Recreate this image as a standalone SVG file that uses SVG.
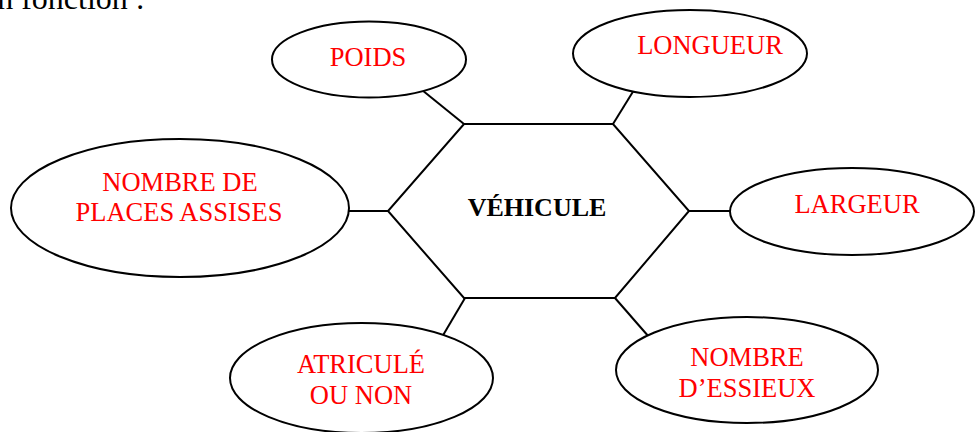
<svg xmlns="http://www.w3.org/2000/svg" width="976" height="432" viewBox="0 0 976 432">
<style>
.sh{fill:#fff;stroke:#000;stroke-width:2}
.ln{stroke:#000;stroke-width:2;fill:none}
.t{font-family:"Liberation Serif","Times New Roman",serif;font-size:26.5px;fill:#ff0000;text-anchor:middle}
.c{font-family:"Liberation Serif","Times New Roman",serif;font-size:26px;font-weight:bold;fill:#000;text-anchor:middle}
.h{font-family:"Liberation Serif","Times New Roman",serif;font-size:32px;fill:#000}
</style>
<rect width="976" height="432" fill="#fff"/>
<text class="h" x="-17" y="9">en fonction :</text>
<g id="connectors">
<line class="ln" x1="422" y1="90" x2="464" y2="124"/>
<line class="ln" x1="634" y1="90" x2="613" y2="124"/>
<line class="ln" x1="349" y1="211" x2="388" y2="211"/>
<line class="ln" x1="689" y1="211" x2="730" y2="211"/>
<line class="ln" x1="442" y1="337" x2="465" y2="298"/>
<line class="ln" x1="615" y1="298" x2="649" y2="337"/>
</g>
<g id="vehicule">
<polygon class="sh" points="464,124 613,124 689,211 615,298 464,298 388,211"/>
<text class="c" x="537" y="216">VÉHICULE</text>
</g>
<g id="poids">
<ellipse class="sh" cx="369" cy="59.5" rx="97" ry="38"/>
<text class="t" x="368" y="66">POIDS</text>
</g>
<g id="longueur">
<ellipse class="sh" cx="690" cy="53.5" rx="117" ry="43.5"/>
<text class="t" x="710" y="54">LONGUEUR</text>
</g>
<g id="places">
<ellipse class="sh" cx="180" cy="208" rx="169" ry="69"/>
<text class="t" x="180" y="191">NOMBRE DE</text>
<text class="t" x="179" y="221">PLACES ASSISES</text>
</g>
<g id="largeur">
<ellipse class="sh" cx="852" cy="211.5" rx="122" ry="43.5"/>
<text class="t" x="857" y="213">LARGEUR</text>
</g>
<g id="articule">
<ellipse class="sh" cx="361.5" cy="378" rx="131.5" ry="55"/>
<text class="t" x="361" y="373">ATRICULÉ</text>
<text class="t" x="361" y="404">OU NON</text>
</g>
<g id="essieux">
<ellipse class="sh" cx="747" cy="370" rx="131" ry="53"/>
<text class="t" x="747" y="366">NOMBRE</text>
<text class="t" x="747" y="397">D’ESSIEUX</text>
</g>
</svg>
